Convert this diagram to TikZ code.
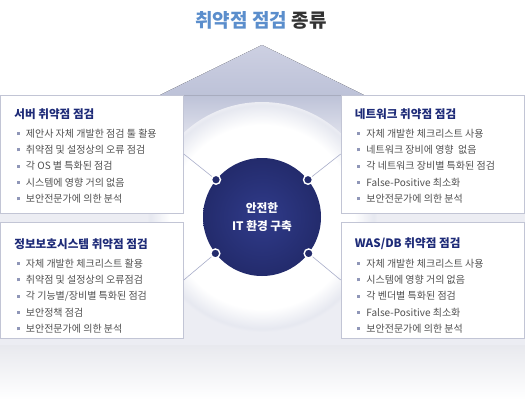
\documentclass[tikz,border=0pt]{standalone}
\usepackage{fontspec}
\setmainfont{Noto Sans CJK KR}
\usetikzlibrary{positioning,calc,shadows}
\definecolor{cTitle}{HTML}{5B8ECC}
\definecolor{cTitleDk}{HTML}{333333}
\definecolor{cRoofTop}{HTML}{CDD0E2}
\definecolor{cRoof}{HTML}{BDC2D8}
\definecolor{cPanel}{HTML}{ECEDF3}
\definecolor{cFloor}{HTML}{E8E9EE}
\definecolor{cRing}{HTML}{E6E8F0}
\definecolor{cEdge}{HTML}{C2C5D5}
\definecolor{cHead}{HTML}{1E2B78}
\definecolor{cItem}{HTML}{505050}
\definecolor{cBullet}{HTML}{9097B8}
\definecolor{cCore}{HTML}{232B6C}
\definecolor{cCoreIn}{HTML}{303B8A}
\definecolor{cLink}{HTML}{A9AECA}
\pgfdeclareradialshading{ringdisc}{\pgfpoint{0bp}{0bp}}%
  {color(0bp)=(white); color(20bp)=(white); color(24.3bp)=(cRing); color(25bp)=(cPanel); color(50bp)=(cPanel)}
\tikzset{
  box/.style   ={draw=cEdge, fill=white, line width=0.6pt, inner sep=0pt, minimum width=183pt,
                 drop shadow={shadow xshift=0.8pt, shadow yshift=-0.8pt, opacity=0.18}},
  head/.style  ={font=\fontsize{11.6}{13}\selectfont\bfseries, text=cHead, inner sep=0pt, anchor=west},
  items/.style ={font=\fontsize{10}{16.3}\selectfont, text=cItem, inner sep=0pt, align=left,
                 anchor=north west},
  dot/.style   ={circle, fill=cCore, draw=white, line width=1.4pt, minimum size=9pt, inner sep=0pt},
  link/.style  ={draw=cLink, line width=0.6pt},
}
\newcommand{\bul}{{\color{cBullet}\rule[2.2pt]{3pt}{3pt}}\hspace{6pt}}

\begin{document}
\begin{tikzpicture}[x=1pt,y=-1pt]
\useasboundingbox (0,0) rectangle (525,410);

\node[font=\fontsize{19}{21}\selectfont\bfseries] (title) at (261,20)
   {\textcolor{cTitle}{취약점 점검} \textcolor{cTitleDk}{종류}};

% backdrop
\fill[top color=cFloor, bottom color=white] (0,345) rectangle (525,400);
\fill[cPanel] (0,95) rectangle (525,345);
\fill[top color=cRoof, bottom color=cPanel] (0,95) rectangle (525,150);
\fill[top color=cRoofTop, bottom color=cRoof] (262,45) -- (364,95) -- (160,95) -- cycle;
\node[circle, minimum size=230pt, inner sep=0pt, shading=ringdisc] (ring) at (262,217) {};

% boxes
\node[box, minimum height=118pt] (srv) at (92,154) {};
\node[box, minimum height=118pt] (net) at (432.5,154) {};
\node[box, minimum height=116pt] (sec) at (92,280) {};
\node[box, minimum height=116pt] (was) at (432.5,280) {};

\node[head] (srvH) at ($(srv.north west)+(14,19)$) {서버 취약점 점검};
\node[items] (srvI) at ($(srv.north west)+(16.5,34)$)
   {\bul 제안사 자체 개발한 점검 툴 활용\\ \bul 취약점 및 설정상의 오류 점검\\
    \bul 각 OS 별 특화된 점검\\ \bul 시스템에 영향 거의 없음\\ \bul 보안전문가에 의한 분석};

\node[head] (netH) at ($(net.north west)+(14,19)$) {네트워크 취약점 점검};
\node[items] (netI) at ($(net.north west)+(16.5,34)$)
   {\bul 자체 개발한 체크리스트 사용\\ \bul 네트워크 장비에 영향\ \ 없음\\
    \bul 각 네트워크 장비별 특화된 점검\\ \bul False-Positive 최소화\\ \bul 보안전문가에 의한 분석};

\node[head] (secH) at ($(sec.north west)+(14,22)$) {정보보호시스템 취약점 점검};
\node[items] (secI) at ($(sec.north west)+(16.5,37)$)
   {\bul 자체 개발한 체크리스트 활용\\ \bul 취약점 및 설정상의 오류점검\\
    \bul 각 기능별/장비별 특화된 점검\\ \bul 보안정책 점검\\ \bul 보안전문가에 의한 분석};

\node[head] (wasH) at ($(was.north west)+(14,22)$) {WAS/DB 취약점 점검};
\node[items] (wasI) at ($(was.north west)+(16.5,37)$)
   {\bul 자체 개발한 체크리스트 사용\\ \bul 시스템에 영향 거의 없음\\
    \bul 각 벤더별 특화된 점검\\ \bul False-Positive 최소화\\ \bul 보안전문가에 의한 분석};

% hub
\node[circle, minimum size=118pt, inner sep=0pt, inner color=cCoreIn, outer color=cCore,
      text=white, align=center, font=\fontsize{11.7}{18}\selectfont\bfseries] (core) at (262,217)
   {안전한\\IT 환경 구축};
\node[dot] (dNW) at (core.141) {};
\node[dot] (dNE) at (core.39) {};
\node[dot] (dSW) at (core.218) {};
\node[dot] (dSE) at (core.322) {};

\draw[link] (dNW) -- (srv.east);
\draw[link] (dNE) -- (net.west);
\draw[link] (dSW) -- (sec.east);
\draw[link] (dSE) -- (was.west);
\end{tikzpicture}
\end{document}
